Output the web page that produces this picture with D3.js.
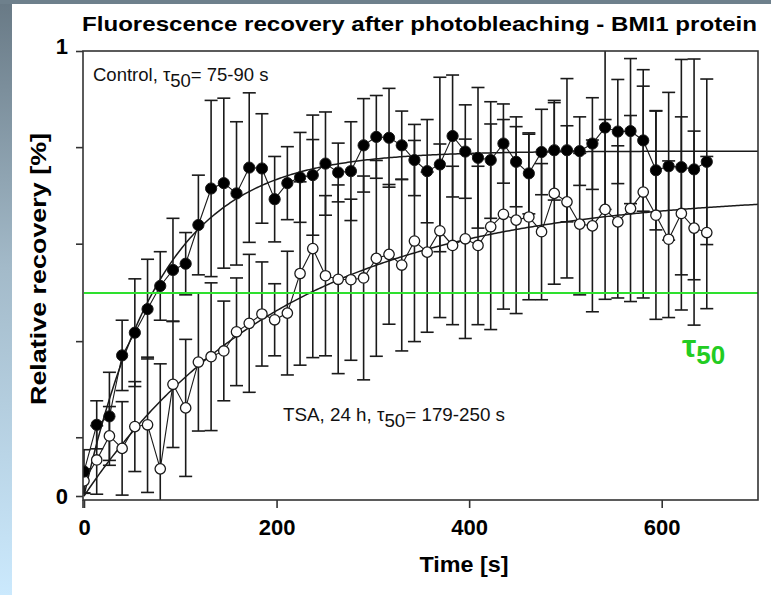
<!DOCTYPE html>
<html><head><meta charset="utf-8">
<script src="https://cdn.jsdelivr.net/npm/d3@7"></script>
<style>body{margin:0;background:#fff;} svg{display:block;}</style>
</head><body>
<svg id="chart" width="771" height="595"></svg>
<script>
// ---- data ----
const times = [0,13.2,26.4,39.6,52.8,66,79.2,92.4,105.6,118.8,132,145.2,158.4,171.6,184.8,198,211.2,224.4,237.6,250.8,264,277.2,290.4,303.6,316.8,330,343.2,356.4,369.6,382.8,396,409.2,422.4,435.6,448.8,462,475.2,488.4,501.6,514.8,528,541.2,554.4,567.6,580.8,594,607.2,620.4,633.6,646.8];
const controlMean = [0.055,0.160,0.179,0.316,0.367,0.420,0.472,0.508,0.522,0.609,0.691,0.703,0.680,0.738,0.736,0.667,0.703,0.716,0.721,0.747,0.727,0.730,0.788,0.807,0.805,0.788,0.755,0.730,0.745,0.809,0.774,0.760,0.755,0.792,0.751,0.725,0.773,0.777,0.777,0.775,0.792,0.828,0.819,0.820,0.799,0.732,0.741,0.739,0.734,0.751];
const controlErr = [0.049,0.054,0.099,0.079,0.121,0.112,0.077,0.116,0.070,0.112,0.198,0.191,0.161,0.168,0.123,0.096,0.082,0.101,0.135,0.116,0.066,0.111,0.105,0.093,0.111,0.077,0.080,0.116,0.196,0.137,0.105,0.158,0.131,0.089,0.101,0.091,0.096,0.112,0.161,0.077,0.103,0.184,0.117,0.163,0.159,0.134,0.166,0.242,0.248,0.186];
const tsaMean = [0.034,0.081,0.135,0.107,0.156,0.160,0.061,0.251,0.198,0.301,0.313,0.326,0.369,0.388,0.409,0.396,0.411,0.500,0.556,0.495,0.487,0.486,0.490,0.534,0.543,0.519,0.573,0.548,0.596,0.563,0.578,0.563,0.605,0.633,0.620,0.627,0.594,0.680,0.661,0.611,0.607,0.644,0.616,0.646,0.683,0.631,0.577,0.635,0.602,0.592];
const tsaErr = [0.027,0.077,0.066,0.105,0.101,0.152,0.236,0.142,0.154,0.155,0.166,0.112,0.121,0.155,0.117,0.081,0.139,0.206,0.245,0.180,0.212,0.181,0.229,0.220,0.157,0.193,0.226,0.180,0.195,0.178,0.224,0.178,0.231,0.213,0.210,0.186,0.153,0.204,0.171,0.159,0.193,0.202,0.171,0.209,0.238,0.234,0.176,0.217,0.218,0.171];
const xTickValues = [0, 200, 400, 600];
const yTickValues = [0, 0.132, 0.348, 0.567, 0.784, 1];
const yTickLabels = ["0", "", "", "", "", "1"];
const controlFit = {A: 0.775, tau: 80};
const tsaFit = {A: 0.68, tau: 211};
const tau50Level = 0.456;

// ---- layout ----
const svg = d3.select("#chart");
const W = 771, H = 595;
const L = 84, R = 758, T = 51, B = 500;
const x = d3.scaleLinear().domain([0, 700]).range([L, R]);
const y = d3.scaleLinear().domain([0, 1]).range([496, T]);

// background
const defs = svg.append("defs");
const grad = defs.append("linearGradient").attr("id","bg").attr("x1",0).attr("y1",0).attr("x2",0).attr("y2",1);
grad.append("stop").attr("offset","0%").attr("stop-color","#687985");
grad.append("stop").attr("offset","45%").attr("stop-color","#a3bac9");
grad.append("stop").attr("offset","100%").attr("stop-color","#cbe9fd");
svg.append("rect").attr("width",W).attr("height",H).attr("fill","url(#bg)");
svg.append("rect").attr("x",0).attr("y",0).attr("width",W).attr("height",4).attr("fill","#6e808c");
svg.append("rect").attr("x",12).attr("y",4).attr("width",W-12).attr("height",H-4).attr("fill","#ffffff");

defs.append("clipPath").attr("id","plotclip").append("rect")
  .attr("x", L-1).attr("y", T).attr("width", R-L+1).attr("height", B-T);

const plot = svg.append("g").attr("clip-path","url(#plotclip)");
const ink = "#1a1a1a";

function errorBars(mean, err) {
  const g = plot.append("g").attr("stroke", ink).attr("stroke-width", 1.6).attr("fill","none");
  times.forEach((t, i) => {
    const cx = x(t), y1 = y(mean[i] + err[i]), y2 = y(mean[i] - err[i]);
    g.append("line").attr("x1",cx).attr("x2",cx).attr("y1",y1).attr("y2",y2);
    g.append("line").attr("x1",cx-6.5).attr("x2",cx+6.5).attr("y1",y1).attr("y2",y1);
    g.append("line").attr("x1",cx-6.5).attr("x2",cx+6.5).attr("y1",y2).attr("y2",y2);
  });
}
errorBars(tsaMean, tsaErr);
errorBars(controlMean, controlErr);

// connecting lines
const line = d3.line().x((d,i)=>x(times[i])).y(d=>y(d));
plot.append("path").datum(controlMean).attr("d", line).attr("fill","none").attr("stroke",ink).attr("stroke-width",1.1);
plot.append("path").datum(tsaMean).attr("d", line).attr("fill","none").attr("stroke",ink).attr("stroke-width",1.1);

// fitted curves
const fitT = d3.range(0, 701, 2);
const fitLine = d3.line().x(d=>x(d[0])).y(d=>y(d[1]));
plot.append("path").datum(fitT.map(t=>[t, controlFit.A*(1-Math.exp(-t/controlFit.tau))]))
  .attr("d", fitLine).attr("fill","none").attr("stroke",ink).attr("stroke-width",1.5);
plot.append("path").datum(fitT.map(t=>[t, tsaFit.A*(1-Math.exp(-t/tsaFit.tau))]))
  .attr("d", fitLine).attr("fill","none").attr("stroke",ink).attr("stroke-width",1.5);

// tau50 line
plot.append("line").attr("x1",L).attr("x2",R).attr("y1",y(tau50Level)).attr("y2",y(tau50Level))
  .attr("stroke","#2ee02e").attr("stroke-width",2);

// markers
plot.append("g").selectAll("circle").data(tsaMean).join("circle")
  .attr("cx",(d,i)=>x(times[i])).attr("cy",d=>y(d)).attr("r",5.2)
  .attr("fill","#fff").attr("stroke",ink).attr("stroke-width",1.3);
plot.append("g").selectAll("circle").data(controlMean).join("circle")
  .attr("cx",(d,i)=>x(times[i])).attr("cy",d=>y(d)).attr("r",5.6)
  .attr("fill","#000").attr("stroke",ink).attr("stroke-width",1);

// frame
svg.append("rect").attr("x",L-1).attr("y",T).attr("width",R-L+1).attr("height",B-T)
  .attr("fill","none").attr("stroke","#333").attr("stroke-width",1.6);

// axes
const fontBold = "'Liberation Sans', Arial, sans-serif";
const xAxis = d3.axisBottom(x).tickValues(xTickValues).tickSize(8).tickPadding(11).tickFormat(d3.format("d"));
const gx = svg.append("g").attr("transform",`translate(0,${B})`).call(xAxis);
gx.select(".domain").remove();
gx.selectAll(".tick line").attr("stroke","#333").attr("stroke-width",1.6);
gx.selectAll(".tick text").attr("font-family",fontBold).attr("font-weight","bold").attr("font-size",22).attr("fill","#000");

const yAxis = d3.axisLeft(y).tickValues(yTickValues).tickSize(7).tickPadding(8).tickFormat((d,i)=>yTickLabels[i]);
const gy = svg.append("g").attr("transform",`translate(${L-1},0)`).call(yAxis);
gy.select(".domain").remove();
gy.selectAll(".tick line").attr("stroke","#333").attr("stroke-width",1.6);
gy.selectAll(".tick text").attr("font-family",fontBold).attr("font-weight","bold").attr("font-size",22).attr("fill","#000");
gy.selectAll(".tick text").filter((d,i)=>i===yTickValues.length-1).attr("dy","0.1em");
// y axis extends below the frame at x=0
svg.append("line").attr("x1",L-1).attr("x2",L-1).attr("y1",B).attr("y2",B+8).attr("stroke","#333").attr("stroke-width",1.6);

// titles
svg.append("text").attr("x",82).attr("y",31).attr("font-family",fontBold).attr("font-weight","bold")
  .attr("font-size",21).attr("textLength",675).attr("lengthAdjust","spacingAndGlyphs")
  .text("Fluorescence recovery after photobleaching - BMI1 protein");
svg.append("text").attr("transform","translate(46,269) rotate(-90)").attr("text-anchor","middle")
  .attr("font-family",fontBold).attr("font-weight","bold").attr("font-size",22)
  .attr("textLength",272).attr("lengthAdjust","spacingAndGlyphs")
  .text("Relative recovery [%]");
svg.append("text").attr("x",464).attr("y",572).attr("text-anchor","middle")
  .attr("font-family",fontBold).attr("font-weight","bold").attr("font-size",22)
  .attr("textLength",89).attr("lengthAdjust","spacingAndGlyphs")
  .text("Time [s]");

// annotations
function tauLabel(xp, yp, pre, post, size) {
  const t = svg.append("text").attr("x",xp).attr("y",yp).attr("font-family",fontBold).attr("font-size",size).attr("fill","#111");
  t.append("tspan").text(pre + "\u03c4");
  t.append("tspan").attr("dy",6).text("50");
  t.append("tspan").attr("dy",-6).text(post);
}
tauLabel(93, 81, "Control, ", "= 75-90 s", 18.5);
tauLabel(283, 421, "TSA, 24 h, ", "= 179-250 s", 18.8);

const g50 = svg.append("text").attr("x",682).attr("y",357).attr("font-family",fontBold).attr("font-weight","bold").attr("fill","#22cc22");
g50.append("tspan").attr("font-size",32).text("\u03c4");
g50.append("tspan").attr("font-size",26).attr("dy",7).text("50");
</script>
</body></html>
